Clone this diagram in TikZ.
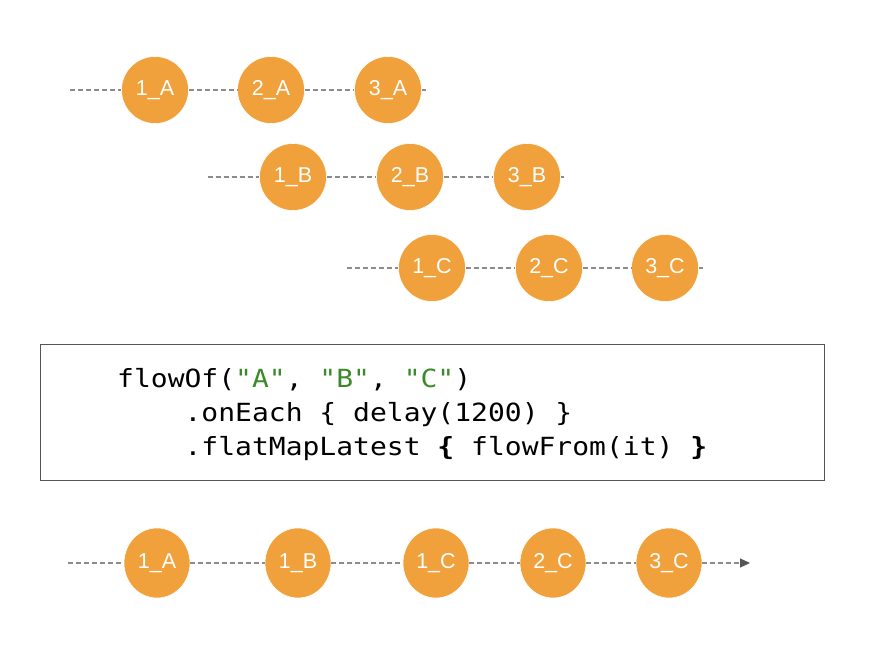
\documentclass[tikz,border=0pt]{standalone}
\usepackage{fontspec}
\setmainfont{Liberation Sans}
\newfontfamily\codefont[FakeStretch=1.12]{DejaVu Sans Mono}
\usetikzlibrary{arrows.meta,shapes.geometric}
\definecolor{marble}{HTML}{F0A13B}
\definecolor{timeline}{HTML}{8C8C8C}
\definecolor{tipgray}{HTML}{555555}
\definecolor{strgreen}{HTML}{3A8A2A}
\definecolor{frame}{HTML}{555555}
\begin{document}
\begin{tikzpicture}[x=1pt,y=-1pt,
  marblenode/.style={circle,fill=marble,draw=white,line width=0.6pt,minimum size=67pt,inner sep=0pt,
    text=white,font=\fontsize{21.5}{24}\selectfont},
  outnode/.style={ellipse,fill=marble,draw=white,line width=0.6pt,minimum width=66pt,minimum height=70pt,inner sep=0pt,
    text=white,font=\fontsize{21.5}{24}\selectfont},
  dashline/.style={draw=timeline,dashed,dash pattern=on 5pt off 3pt,line width=1.1pt},
  codeline/.style={anchor=base west,inner sep=0pt,font=\codefont\fontsize{25}{30}\selectfont},
]
\useasboundingbox (0,0) rectangle (876,668);
\fill[white] (0,0) rectangle (876,668);

% upstream flows
\node[marblenode] (a1) at (155,90) {1\_A};
\node[marblenode] (a2) at (271,90) {2\_A};
\node[marblenode] (a3) at (388,90) {3\_A};
\coordinate (sA) at (70,90);
\coordinate (eA) at (426,90);
\draw[dashline] (sA) -- (a1);
\draw[dashline] (a1) -- (a2);
\draw[dashline] (a2) -- (a3);
\draw[dashline] (a3) -- (eA);

\node[marblenode] (b1) at (293,177) {1\_B};
\node[marblenode] (b2) at (410,177) {2\_B};
\node[marblenode] (b3) at (527,177) {3\_B};
\coordinate (sB) at (208,177);
\coordinate (eB) at (564,177);
\draw[dashline] (sB) -- (b1);
\draw[dashline] (b1) -- (b2);
\draw[dashline] (b2) -- (b3);
\draw[dashline] (b3) -- (eB);

\node[marblenode] (c1) at (432,268) {1\_C};
\node[marblenode] (c2) at (549,268) {2\_C};
\node[marblenode] (c3) at (665,268) {3\_C};
\coordinate (sC) at (347,268);
\coordinate (eC) at (703,268);
\draw[dashline] (sC) -- (c1);
\draw[dashline] (c1) -- (c2);
\draw[dashline] (c2) -- (c3);
\draw[dashline] (c3) -- (eC);

% operator box
\node[draw=frame,line width=1pt,minimum width=784pt,minimum height=135pt,inner sep=0pt] (box) at (432,412.5) {};
\node[codeline] (code1) at (117,388) {flowOf(\textcolor{strgreen}{"A"}, \textcolor{strgreen}{"B"}, \textcolor{strgreen}{"C"})};
\node[codeline] (code2) at (117,421.5) {\phantom{xxxx}.onEach \{ delay(1200) \}};
\node[codeline] (code3) at (117,455) {\phantom{xxxx}.flatMapLatest \textbf{\{} flowFrom(it) \textbf{\}}};

% resulting flow
\node[outnode] (r1) at (157,563) {1\_A};
\node[outnode] (r2) at (298,563) {1\_B};
\node[outnode] (r3) at (436,563) {1\_C};
\node[outnode] (r4) at (553,563) {2\_C};
\node[outnode] (r5) at (669,563) {3\_C};
\coordinate (sR) at (68,563);
\coordinate (eR) at (750,563);
\draw[dashline] (sR) -- (r1);
\draw[dashline] (r1) -- (r2);
\draw[dashline] (r2) -- (r3);
\draw[dashline] (r3) -- (r4);
\draw[dashline] (r4) -- (r5);
\draw[dashline,-{Triangle[length=10pt,width=9pt,color=tipgray]}] (r5) -- (eR);
\end{tikzpicture}
\end{document}
